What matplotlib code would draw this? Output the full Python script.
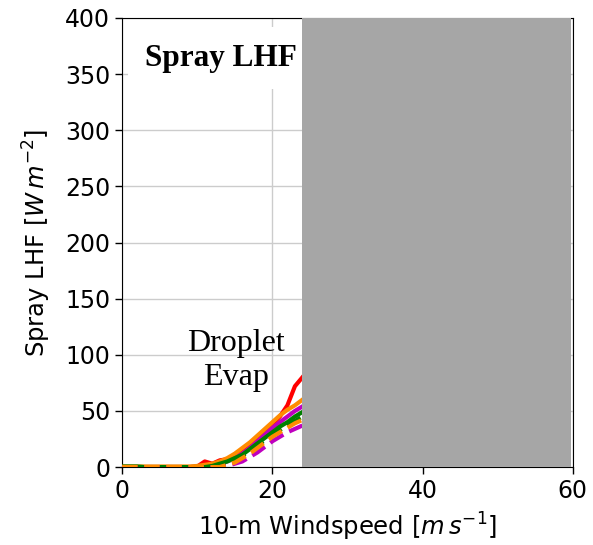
import matplotlib
matplotlib.use("Agg")
import matplotlib.pyplot as plt

# 10-m windspeed [m/s]
windspeed = list(range(0, 25))

# Spray latent heat flux [W m^-2] for each configuration
lhf_red = [0, 0, 0, 0, 0, 0, 0, 0, 0, 0, 0.5, 5, 3, 6, 7, 10, 14, 20, 26, 32, 38, 45, 55, 72, 80]
lhf_orange = [0.5, 0.5, 0.5, 0.5, 0.5, 0.5, 0.5, 0.5, 0.5, 0.5, 1, 2, 3, 5, 8, 12, 17, 22, 28, 34, 40, 46, 51, 55, 60]
lhf_magenta = [0, 0, 0, 0, 0, 0, 0, 0, 0, 0, 0, 0, 1, 3, 5, 8, 12, 17, 23, 29, 35, 40, 45, 50, 54]
lhf_green = [0.5, 0.5, 0.5, 0, 0, 0, 0, 0, 0, 0, 0, 0, 1, 3, 5, 8, 11, 16, 21, 26, 31, 36, 40, 45, 49]
lhf_green_d = [0, 0, 0, 0, 0, 0, 0, 0, 0, 0, 0, 0, 0, 2, 4, 6, 10, 14, 19, 24, 28, 33, 37, 41, 45]
lhf_orange_d = [0, 0, 0, 0, 0, 0, 0, 0, 0, 0, 0, 0, 0, 0, 2, 4, 8, 12, 17, 22, 27, 31, 35, 39, 42]
lhf_magenta_d = [0, 0, 0, 0, 0, 0, 0, 0, 0, 0, 0, 0, 0, 0, 1, 3, 5, 9, 13, 18, 23, 27, 31, 34, 37]

# Windspeed range that is masked out
mask_start, mask_end = 23.9, 59.8

x_ticks = [0, 20, 40, 60]
y_ticks = [0, 50, 100, 150, 200, 250, 300, 350, 400]

fig = plt.figure(figsize=(5.93, 5.45), dpi=100)
ax = fig.add_axes([0.206, 0.143, 0.76, 0.824])

ax.set_xlim(0, 60)
ax.set_ylim(0, 400)
ax.set_xticks(x_ticks)
ax.set_yticks(y_ticks)
ax.grid(True, color="#cccccc", linewidth=1.0, zorder=0)
ax.set_axisbelow(True)

lw = 3.0
ax.plot(windspeed, lhf_red, color="red", lw=lw, zorder=3)
ax.plot(windspeed, lhf_magenta, color="m", lw=lw, zorder=3)
ax.plot(windspeed, lhf_orange, color="darkorange", lw=lw, zorder=3)
ax.plot(windspeed, lhf_green, color="green", lw=lw, zorder=3)
ax.plot(windspeed, lhf_green_d, color="green", lw=lw, ls="--", zorder=3)
ax.plot(windspeed, lhf_magenta_d, color="m", lw=lw, ls="--", zorder=3)
ax.plot(windspeed, lhf_orange_d, color="darkorange", lw=lw, ls="--", zorder=3)

ax.axvspan(mask_start, mask_end, color="#a6a6a6", lw=0, zorder=4)

ax.text(3.0, 364, "Spray LHF", family="Liberation Serif", fontweight="bold",
        fontsize=22.5, ha="left", va="center", zorder=3,
        bbox=dict(facecolor="white", edgecolor="none", pad=12))
ax.text(15.2, 95, "Droplet\nEvap", family="Liberation Serif", fontsize=23,
        ha="center", va="center", multialignment="center", zorder=3,
        linespacing=1.25)

ax.tick_params(labelsize=17, length=5, width=1)
ax.set_xlabel(r"10-m Windspeed [$m\,s^{-1}$]", fontsize=17.5, labelpad=6)
ax.set_ylabel(r"Spray LHF [$W\,m^{-2}$]", fontsize=17.5, labelpad=9)

fig.savefig("out.png", dpi=100)
